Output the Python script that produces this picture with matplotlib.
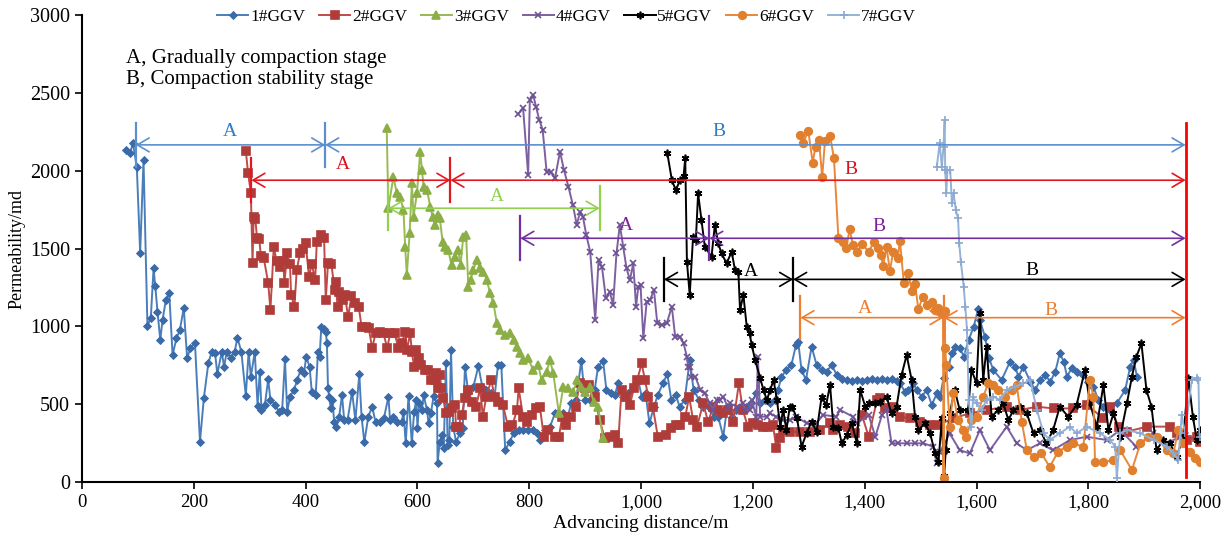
import matplotlib
matplotlib.use('Agg')
import matplotlib.pyplot as plt
from matplotlib.ticker import FuncFormatter

plt.rcParams['font.family'] = ['Liberation Serif', 'DejaVu Serif']

# ---- data (distance m, permeability md) ----
s1_x = [78, 86, 91, 98, 104, 110, 117, 123, 128, 131, 135, 140, 144, 150, 156, 162, 169, 175, 182, 188,
        194, 202, 211, 218, 226, 232, 238, 242, 250, 254, 259, 266, 273, 278, 285, 293, 298, 302, 309, 314,
        318, 321, 327, 333, 337, 346, 352, 358, 363, 367, 372, 379, 385, 391, 397, 401, 407, 411, 418, 422,
        425, 428, 432, 436, 438, 440, 442, 445, 448, 451, 455, 460, 465, 469, 475, 483, 489, 496, 500, 505,
        512, 519, 525, 533, 540, 548, 551, 557, 564, 572, 575, 579, 584, 590, 594, 598, 600, 603, 608, 611,
        617, 620, 624, 629, 635, 636, 640, 644, 647, 651, 654, 657, 660, 664, 669, 676, 681, 685, 691, 700,
        709, 716, 723, 731, 738, 744, 750, 757, 765, 772, 781, 789, 798, 806, 813, 819, 828, 837, 846, 852,
        861, 869, 875, 884, 893, 900, 908, 917, 923, 932, 938, 947, 953, 959, 968, 977, 986, 995, 1001, 1008,
        1015, 1023, 1030, 1039, 1047, 1054, 1062, 1069, 1078, 1087, 1094, 1104, 1111, 1122, 1130, 1138, 1147,
        1154, 1162, 1169, 1179, 1188, 1197, 1206, 1212, 1221, 1230, 1239, 1245, 1251, 1260, 1269, 1277, 1281,
        1287, 1295, 1305, 1314, 1323, 1332, 1341, 1350, 1359, 1368, 1377, 1386, 1395, 1404, 1413, 1422, 1431,
        1440, 1449, 1457, 1463, 1472, 1478, 1487, 1493, 1502, 1511, 1520, 1529, 1535, 1541, 1550, 1556, 1562,
        1571, 1577, 1586, 1595, 1603, 1606, 1615, 1622, 1630, 1645, 1660, 1669, 1675, 1684, 1696, 1705, 1714,
        1723, 1732, 1741, 1749, 1756, 1762, 1770, 1780, 1791, 1800, 1809, 1818, 1827, 1839, 1851, 1866, 1875,
        1881, 1887]
s1_y = [2134, 2113, 2178, 2025, 1472, 2069, 1003, 1054, 1372, 1260, 1095, 913, 1041, 1170, 1217, 816, 925, 977, 1118, 797,
        861, 893, 259, 542, 764, 837, 828, 694, 837, 741, 837, 797, 837, 927, 837, 555, 837, 677, 837, 490,
        709, 463, 495, 660, 527, 495, 452, 463, 788, 452, 548, 591, 655, 720, 698, 805, 741, 580, 559, 837,
        805, 994, 982, 966, 895, 602, 548, 473, 527, 387, 355, 420, 559, 398, 398, 580, 398, 694, 420, 255,
        420, 484, 387, 387, 409, 548, 398, 420, 387, 387, 452, 248, 555, 248, 452, 527, 350, 505, 463, 559,
        463, 377, 441, 555, 505, 124, 259, 302, 216, 763, 237, 270, 848, 355, 259, 312, 345, 741, 570, 612,
        745, 612, 591, 570, 548, 752, 752, 205, 259, 312, 334, 334, 334, 334, 312, 270, 334, 355, 441, 441,
        441, 420, 505, 527, 780, 527, 527, 591, 741, 780, 591, 570, 559, 634, 548, 570, 612, 655, 548, 570,
        377, 484, 559, 634, 694, 527, 559, 484, 527, 784, 591, 527, 484, 484, 420, 420, 291,
        484, 420, 463, 463, 484, 505, 570, 505, 527, 505, 527, 591, 677, 720, 752, 880, 902,
        720, 656, 870, 752, 720, 709, 752, 688, 660, 656, 650, 655, 650, 655, 660, 655, 660,
        655, 660, 650, 634, 580, 591, 634, 591, 549, 591, 495, 570, 549, 667, 742, 827, 870,
        859, 806, 913, 999, 1110, 1041, 934, 800, 720, 656, 774, 742, 677, 742, 645, 592, 656,
        688, 645, 710, 827, 774, 677, 731, 710, 688, 645, 613, 527, 485, 463, 506, 592, 742,
        785, 677]

s2_x = [293, 297, 302, 305, 307, 310, 313, 317, 320, 325, 333, 337, 343, 348, 354, 360, 362, 367, 372, 374,
        380, 384, 390, 396, 400, 406, 411, 417, 420, 427, 433, 436, 440, 446, 452, 454, 457, 460, 466, 470,
        476, 482, 488, 495, 500, 508, 513, 519, 525, 533, 539, 546, 551, 559, 566, 572, 578, 581, 587, 590,
        594, 597, 603, 607, 613, 619, 625, 631, 634, 637, 640, 643, 646, 651, 657, 661, 667, 669, 673, 679,
        685, 691, 697, 705, 712, 717, 723, 732, 738, 744, 753, 762, 770, 778, 781, 789, 796, 804, 812, 819,
        826, 834, 846, 853, 859, 866, 875, 883, 890, 899, 907, 917, 926, 935, 944, 953, 959, 965, 973, 980,
        987, 993, 1001, 1007, 1013, 1021, 1030, 1045, 1054, 1062, 1070, 1079, 1086, 1093, 1100, 1111, 1120,
        1129, 1138, 1147, 1156, 1165, 1175, 1182, 1191, 1200, 1209, 1218, 1227, 1236, 1242, 1248, 1254, 1266,
        1284, 1302, 1320, 1338, 1344, 1356, 1371, 1383, 1395, 1407, 1422, 1428, 1436, 1451, 1463, 1481, 1499,
        1517, 1532, 1558, 1588, 1618, 1654, 1678, 1708, 1738, 1773, 1797, 1827, 1839, 1854, 1869, 1905, 1946,
        1958, 1976, 1994, 2000]
s2_y = [2128, 1984, 1860, 1410, 1700, 1690, 1570, 1560, 1450, 1440, 1281, 1105, 1510, 1420, 1380, 1420, 1276, 1470, 1400, 1201,
        1126, 1360, 1474, 1500, 1534, 1320, 1400, 1300, 1545, 1588, 1566, 1169, 1406, 1400, 1234, 1287, 1122, 1223, 1169, 1201,
        1062, 1195, 1148, 1126, 998, 994, 987, 859, 955, 966, 959, 859, 955, 955, 863, 891, 966, 848, 955, 837,
        741, 848, 794, 752, 719, 719, 655, 655, 698, 602, 688, 602, 537, 441, 452, 473, 495, 355, 355, 430,
        537, 591, 516, 484, 602, 420, 548, 655, 548, 516, 495, 355, 366, 463, 602, 420, 387, 430, 473, 484,
        291, 334, 291, 291, 420, 366, 420, 484, 634, 602, 623, 548, 398, 281, 291, 302, 248, 591, 548, 495,
        602, 655, 762, 655, 548, 484, 291, 302, 345, 366, 366, 420, 548, 398, 355, 505, 387,
        484, 463, 441, 463, 387, 634, 463, 355, 377, 366, 355, 355, 366, 216, 281, 334, 323,
        323, 323, 334, 377, 334, 366, 356, 313, 431, 292, 527, 538, 474, 484, 420, 409, 388,
        366, 366, 409, 441, 463, 484, 463, 484, 473, 473, 495, 410, 485, 356, 324, 356, 356,
        313, 270, 292, 260]

s3_x = [545, 548, 557, 563, 569, 575, 578, 581, 586, 590, 593, 599, 605, 608, 611, 617, 623, 627, 632, 636,
        640, 645, 649, 655, 661, 667, 673, 677, 682, 687, 691, 695, 700, 706, 712, 718, 724, 730, 736, 742,
        748, 757, 766, 772, 778, 784, 789, 798, 807, 816, 822, 831, 837, 843, 853, 861, 869, 878, 886, 893,
        899, 908, 915, 923, 932]
s3_y = [2273, 1759, 1962, 1855, 1833, 1748, 1512, 1330, 1598, 1919, 1705, 1855, 2123, 2005, 1898, 1876, 1769, 1705, 1652, 1716,
        1694, 1544, 1512, 1491, 1394, 1448, 1491, 1394, 1577, 1587, 1255, 1298, 1363, 1427, 1373, 1352, 1298, 1212, 1148, 1020,
        977, 945, 955, 912, 870, 827, 784, 794, 720, 752, 655, 709, 784, 698, 441, 612, 602, 580, 655, 612,
        580, 612, 516, 484, 281]

s4_x = [780, 789, 798, 801, 807, 812, 818, 824, 831, 838, 846, 855, 862, 870, 878, 885, 891, 896, 902, 909,
        918, 924, 930, 937, 944, 950, 956, 962, 968, 974, 980, 986, 991, 995, 999, 1004, 1010, 1016, 1023, 1029,
        1037, 1046, 1055, 1061, 1069, 1076, 1082, 1084, 1088, 1090, 1097, 1106, 1114, 1123, 1129, 1135, 1141,
        1147, 1156, 1159, 1171, 1182, 1186, 1194, 1198, 1206, 1209, 1213, 1225, 1230, 1242, 1254, 1267, 1278,
        1296, 1313, 1326, 1349, 1356, 1379, 1386, 1407, 1419, 1431, 1439, 1448, 1460, 1475, 1490, 1505, 1523,
        1529, 1535, 1552, 1570, 1588, 1606, 1624, 1654, 1672, 1690, 1713, 1737, 1767, 1797, 1833, 1857, 1886,
        1916, 1940, 1964]
s4_y = [2365, 2401, 1973, 2455, 2487, 2412, 2326, 2262, 1994, 1994, 1951, 2123, 2005, 1898, 1780, 1652, 1737, 1705, 1587, 1480,
        1041, 1427, 1384, 1180, 1223, 1137, 1469, 1652, 1512, 1373, 1298, 1405, 1127, 1255, 1266, 923, 1159, 1170, 1234, 1020,
        1009, 1020, 1127, 934, 934, 891, 805, 741, 742, 677, 677, 592, 570, 505, 463, 527, 527,
        548, 474, 505, 485, 505, 463, 463, 527, 420, 805, 420, 420, 441, 420, 398, 399, 420,
        377, 377, 431, 420, 463, 420, 377, 431, 292, 431, 463, 249, 249, 249, 249, 249, 227,
        120, 195, 312, 205, 184, 334, 205, 355, 248, 205, 248, 205, 270, 291, 270, 334, 227,
        312, 248, 291]

s5_x = [1047, 1055, 1062, 1070, 1076, 1079, 1082, 1087, 1093, 1098, 1102, 1108, 1114, 1126, 1132, 1138, 1144, 1153,
        1162, 1168, 1174, 1177, 1183, 1189, 1194, 1198, 1204, 1213, 1219, 1225, 1231, 1237, 1243, 1249, 1254, 1260,
        1266, 1270, 1279, 1287, 1296, 1305, 1314, 1323, 1331, 1338, 1344, 1353, 1359, 1368, 1377, 1386, 1392, 1401,
        1408, 1419, 1428, 1439, 1448, 1457, 1466, 1475, 1484, 1490, 1496, 1508, 1517, 1526, 1532, 1538, 1542, 1545,
        1552, 1561, 1570, 1585, 1591, 1600, 1606, 1612, 1618, 1627, 1639, 1648, 1657, 1666, 1678, 1690, 1702, 1714,
        1725, 1737, 1749, 1764, 1779, 1794, 1803, 1815, 1827, 1836, 1845, 1857, 1869, 1878, 1886, 1895, 1904, 1913,
        1922, 1934, 1946, 1958, 1970, 1979, 1987, 1994, 2000]
s5_y = [2112, 1941, 1876, 1941, 1966, 2080, 1416, 1202, 1576, 1555, 1855, 1684, 1512, 1448, 1652, 1534, 1469, 1405,
        1480, 1362, 1352, 1105, 1202, 998, 955, 880, 784, 667, 592, 527, 592, 656, 527, 356, 463, 335,
        485, 484, 409, 227, 313, 388, 324, 549, 495, 624, 356, 345, 249, 302, 377, 249, 591, 484,
        506, 506, 516, 549, 441, 484, 688, 816, 656, 420, 334, 377, 313, 184, 130, 409, 40, 205,
        441, 591, 463, 463, 720, 634, 1084, 655, 870, 420, 463, 505, 398, 463, 484, 441, 312, 334,
        248, 334, 484, 420, 495, 720, 505, 355, 623, 334, 441, 291, 505, 677, 805, 891, 591, 484,
        205, 270, 248, 163, 291, 666, 420, 270, 334]

s6_x = [1284, 1290, 1299, 1307, 1312, 1318, 1324, 1329, 1338, 1345, 1353, 1361, 1367, 1373, 1379, 1386, 1395, 1407,
        1417, 1423, 1429, 1433, 1439, 1445, 1451, 1459, 1463, 1470, 1478, 1484, 1490, 1496, 1504, 1511, 1520, 1526,
        1532, 1538, 1540, 1541, 1543, 1544, 1546, 1552, 1558, 1567, 1576, 1582, 1591, 1600, 1612, 1621, 1630, 1639,
        1651, 1663, 1672, 1681, 1690, 1702, 1716, 1731, 1746, 1761, 1773, 1791, 1803, 1809, 1812, 1827, 1845, 1857,
        1878, 1893, 1907, 1922, 1940, 1952, 1961, 1970, 1982, 1991, 1999]
s6_y = [2230, 2176, 2258, 2052, 2155, 2198, 1962, 2193, 2226, 2080, 1566, 1544, 1502, 1624, 1523, 1476, 1530, 1480,
        1544, 1506, 1459, 1390, 1512, 1356, 1480, 1437, 1551, 1277, 1341, 1230, 1272, 1110, 1191, 1137, 1159, 1105,
        1116, 1088, 1100, 25, 1100, 859, 752, 355, 570, 398, 334, 291, 398, 420, 548, 634, 623, 591,
        548, 591, 623, 387, 205, 163, 184, 98, 195, 227, 248, 227, 655, 548, 130, 130, 141, 205,
        77, 248, 291, 291, 205, 184, 334, 248, 195, 152, 130]

s7_x = [1529, 1534, 1538, 1541, 1543, 1544, 1546, 1548, 1553, 1556, 1559, 1563, 1567, 1569, 1572, 1577, 1580, 1583,
        1584, 1586, 1591, 1594, 1600, 1609, 1618, 1630, 1642, 1654, 1669, 1684, 1696, 1708, 1720, 1731, 1749, 1767,
        1779, 1797, 1821, 1839, 1848, 1851, 1857, 1869, 1893, 1917, 1940, 1952, 1961, 1967, 1973, 1985, 1994, 1997,
        1999]
s7_y = [2026, 2176, 2026, 2155, 2326, 2005, 1855, 2005, 2005, 1791, 1855, 1748, 1694, 1534, 1416, 1255, 1127, 977,
        827, 527, 356, 549, 506, 463, 527, 549, 527, 592, 613, 634, 656, 463, 313, 270, 313, 356,
        313, 356, 313, 270, 228, 24, 313, 335, 313, 270, 228, 185, 142, 431, 313, 656, 667, 656,
        292]

series_names = ['1#GGV', '2#GGV', '3#GGV', '4#GGV', '5#GGV', '6#GGV', '7#GGV']

# stage arrows: start bar, A/B boundary bar, end (red line), arrow height
stage_start = [96, 303, 548, 784, 1041, 1285]
stage_mid = [435, 659, 926, 1122, 1272, 1541]
stage_end = [1974, 1974, None, 1974, 1974, 1974]
stage_y = [2166, 1939, 1759, 1566, 1302, 1056]
label_a = [(265, 2252), (467, 2038), (742, 1833), (973, 1651), (1196, 1352), (1401, 1116)]
label_b = [(1140, 2251), (1376, 2009), None, (1426, 1641), (1699, 1362), (1733, 1105)]
end_line_x = 1974

# ---- styles ----
line_colors = ['#4A7EBB', '#BE4B48', '#98B954', '#7D60A0', '#000000', '#E8883A', '#95B3D7']
marker_colors = ['#3A6AA8', '#B03C3A', '#8BAE46', '#6E5192', '#000000', '#E0802E', '#8AA8D0']
markers = ['D', 's', '^', 'x', (6, 2, 0), 'o', '+']
msizes = [3.5, 5.5, 5.5, 4.5, 5.5, 5.5, 5.5]
stage_colors = ['#5B8FD0', '#E2171F', '#92D050', '#7030A0', '#000000', '#ED7D31']
label_colors = ['#2E7BC8', '#D9141C', '#92D050', '#7F1F9E', '#000000', '#ED7D31']

fig = plt.figure(figsize=(12.26, 5.38), dpi=100)
ax = fig.add_axes([0.0669, 0.104, 0.912, 0.868])

xs = [s1_x, s2_x, s3_x, s4_x, s5_x, s6_x, s7_x]
ys = [s1_y, s2_y, s3_y, s4_y, s5_y, s6_y, s7_y]
for i in range(7):
    ax.plot(xs[i], ys[i], color=line_colors[i], lw=1.4, marker=markers[i], ms=msizes[i],
            mfc=marker_colors[i], mec=marker_colors[i], mew=1.2, label=series_names[i], zorder=2 + i * 0.1)

# stage arrows
half = 140
for i in range(6):
    c = stage_colors[i]
    y = stage_y[i]
    ap = dict(arrowstyle='<->,head_length=0.85,head_width=0.5', color=c, lw=1.2,
              shrinkA=0, shrinkB=0, mutation_scale=10)
    ax.annotate('', xy=(stage_mid[i], y), xytext=(stage_start[i], y), arrowprops=ap, zorder=5)
    ax.plot([stage_start[i], stage_start[i]], [y - half, y + half], color=c, lw=1.6, zorder=5)
    ax.plot([stage_mid[i], stage_mid[i]], [y - half, y + half], color=c, lw=1.6, zorder=5)
    ax.text(label_a[i][0], label_a[i][1], 'A', color=label_colors[i], fontsize=14,
            ha='center', va='center', zorder=6)
    if stage_end[i] is not None:
        ax.annotate('', xy=(stage_end[i], y), xytext=(stage_mid[i], y), arrowprops=ap, zorder=5)
        ax.text(label_b[i][0], label_b[i][1], 'B', color=label_colors[i], fontsize=14,
                ha='center', va='center', zorder=6)

ax.plot([end_line_x, end_line_x], [30, 2305], color='#FF0000', lw=2, zorder=6)

ax.text(0.039, 0.928, 'A, Gradually compaction stage\nB, Compaction stability stage',
        transform=ax.transAxes, fontsize=15, va='top', ha='left', linespacing=1.2)

ax.set_xlim(0, 2000)
ax.set_ylim(0, 3000)
ax.set_xticks(range(0, 2001, 200))
ax.set_yticks(range(0, 3001, 500))
ax.xaxis.set_major_formatter(FuncFormatter(lambda v, p: f'{int(v):,}'))
ax.tick_params(axis='both', direction='out', length=5, width=1.2, colors='black')
ax.tick_params(axis='x', labelsize=13.5)
ax.tick_params(axis='y', labelsize=14.5)
for side in ['top', 'right']:
    ax.spines[side].set_visible(False)
for side in ['left', 'bottom']:
    ax.spines[side].set_linewidth(1.5)

ax.set_xlabel('Advancing distance/m', fontsize=14, labelpad=3)
ax.set_ylabel('Permeability/md', fontsize=13, labelpad=3)

fig.legend(loc='center', bbox_to_anchor=(0.462, 0.968), ncol=7, frameon=False, fontsize=12.5,
           handlelength=1.8, columnspacing=0.8, handletextpad=0.1)

fig.savefig('out.png', dpi=100)
